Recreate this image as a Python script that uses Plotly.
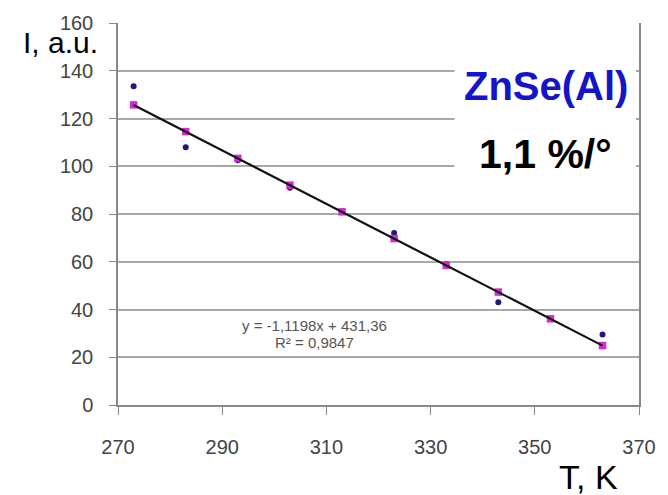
import plotly.graph_objects as go

# Temperature points, K
temperature = [273, 283, 293, 303, 313, 323, 333, 343, 353, 363]
# Measured luminescence intensity, a.u.
intensity = [133.5, 108, 102.5, 91, 81, 72, 59, 43, 36, 29.5]
# Values of the linear fit at each temperature
fitted = [125.7, 114.5, 103.3, 92.1, 80.9, 69.7, 58.5, 47.3, 36.1, 24.9]

# Linear trend parameters shown on the chart
slope = -1.1198
intercept = 431.36
r_squared = 0.9847

x_ticks = [270, 290, 310, 330, 350, 370]
y_ticks = [0, 20, 40, 60, 80, 100, 120, 140, 160]

W, H = 668, 495
L, R, T, B = 118, 25, 23, 90
FONT = "Arial, Liberation Sans, sans-serif"


def px(x):
    return (x - L) / (W - L - R)


def py(y):
    return 1 - (y - T) / (H - T - B)


fig = go.Figure()

fig.add_trace(go.Scatter(
    x=temperature, y=intensity, mode="markers",
    marker=dict(symbol="circle", size=6, color="#1c1c78"),
    showlegend=False,
))
fig.add_trace(go.Scatter(
    x=temperature, y=fitted, mode="markers",
    marker=dict(symbol="square", size=7.5, color="#d828d8"),
    showlegend=False,
))
trend_x = [temperature[0], temperature[-1]]
trend_y = [slope * t + intercept for t in trend_x]
fig.add_trace(go.Scatter(
    x=trend_x, y=trend_y, mode="lines",
    line=dict(color="#111111", width=2.2),
    showlegend=False,
))

eq_line = f"y = {slope:.4f}x + {intercept:.2f}".replace(".", ",")
r2_line = f"R² = {r_squared:.4f}".replace(".", ",")

# White panel behind the sample name and coefficient
fig.add_shape(type="rect", xref="paper", yref="paper",
              x0=px(457), x1=px(640), y0=py(197), y1=py(62),
              fillcolor="white", line=dict(width=0), layer="above")


def label(text, x, y, size, color):
    return dict(text=text, x=px(x), y=py(y), xref="paper", yref="paper",
                xanchor="center", yanchor="middle", showarrow=False,
                font=dict(size=size, color=color), align="center")


fig.update_layout(
    width=W, height=H,
    margin=dict(l=L, r=R, t=T, b=B),
    paper_bgcolor="white", plot_bgcolor="white",
    font=dict(family=FONT),
    annotations=[
        label(eq_line, 316, 325, 15, "#555555"),
        label(r2_line, 316, 342, 15, "#555555"),
        label("I, a.u.", 60, 43, 30, "black"),
        label("<b>ZnSe(Al)</b>", 549, 86, 40, "#1414c8"),
        label("<b>1,1 %/°</b>", 549, 154, 41, "black"),
        label("T, K", 592, 477, 34, "black"),
    ],
)

fig.update_xaxes(
    range=[270, 370], tickvals=x_ticks, ticks="outside", ticklen=8,
    tickcolor="#888888", showline=True, linecolor="#888888", linewidth=1.5,
    showgrid=False, zeroline=False,
    tickfont=dict(size=20, color="#444444", family=FONT),
    ticklabelstandoff=15,
)
fig.update_yaxes(
    range=[0, 160], tickvals=y_ticks, ticks="outside", ticklen=7,
    tickcolor="#888888", showline=True, linecolor="#888888", linewidth=1.5,
    mirror=True, showgrid=True, gridcolor="#a8a8a8", gridwidth=1.5,
    zeroline=False,
    tickfont=dict(size=20, color="#444444", family=FONT),
    ticklabelstandoff=12,
)

fig.write_html("out.html")
